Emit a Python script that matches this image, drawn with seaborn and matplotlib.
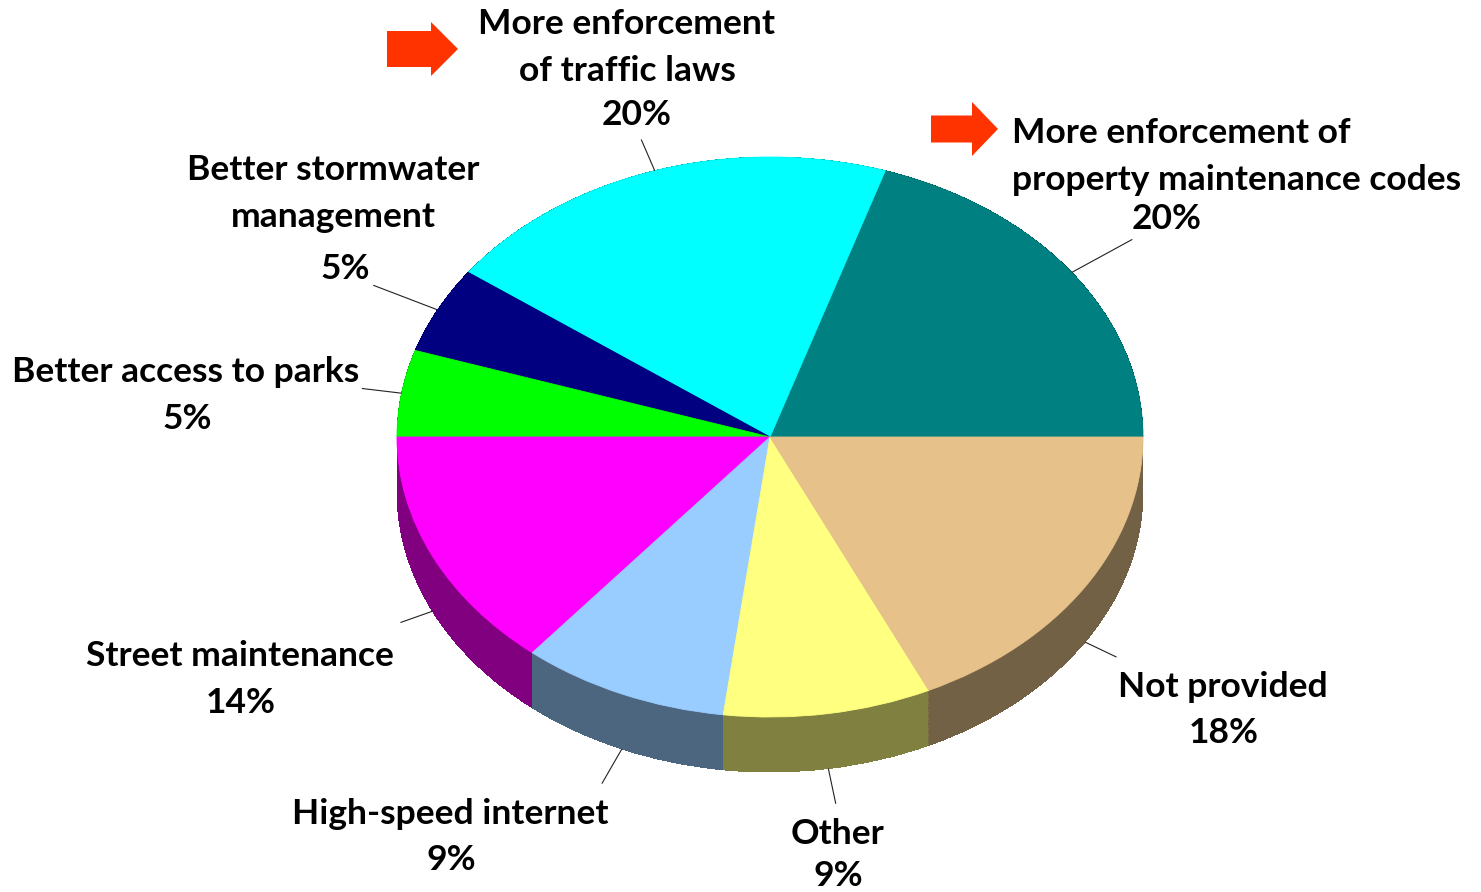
import numpy as np
import matplotlib
matplotlib.use("Agg")
import matplotlib.pyplot as plt
import matplotlib.colors as mcolors
from matplotlib.patches import FancyArrow
import seaborn as sns

# ---- data -------------------------------------------------------------
categories = [
    "More enforcement of\nproperty maintenance codes",
    "More enforcement\nof traffic laws",
    "Better stormwater\nmanagement",
    "Better access to parks",
    "Street maintenance",
    "High-speed internet",
    "Other",
    "Not provided",
]
shares = [20, 20, 5, 5, 14, 9, 9, 18]
slice_colors = ["#008080", "#00FFFF", "#000080", "#00FF00",
                "#FF00FF", "#99CCFF", "#FFFF80", "#E6C28A"]
flagged = [True, True, False, False, False, False, False, False]

# ---- layout (pixels, origin top-left) ---------------------------------
W, H = 1481, 892
CX, CY = 770, 437          # pie centre
RX, RY = 373, 280          # ellipse half-axes of the top face
DEPTH = 55                 # thickness of the pie
LINE_STEP = 47             # distance between text lines

# name: (x, first baseline, ha), percent: (x, baseline), leader length
label_layout = [
    ((1012, 143, "left"), (1167, 229), 69),
    ((627, 34, "center"), (637, 125), 34),
    ((333, 180, "center"), (345, 279), 69),
    ((186, 382, "center"), (187, 429), 40),
    ((240, 666, "center"), (241, 713), 34),
    ((450, 824, "center"), (451, 870), 40),
    ((838, 844, "center"), (838, 886), 36),
    ((1223, 697, "center"), (1224, 743), 35),
]
# arrows: tail x, tip x, centre y, body height, head height, head length
arrow_layout = {0: (931, 998, 129, 27, 54, 26), 1: (387, 458, 49, 36, 54, 27)}

sns.set_theme(style="white")
plt.rcParams["font.family"] = ["Lato", "DejaVu Sans"]
palette = sns.color_palette(slice_colors)
side_palette = [tuple(0.5 * np.array(mcolors.to_rgb(c))) for c in palette]


def to_data(xp, yp):
    return (xp - CX) / RX, (CY - yp) / RY


fig = plt.figure(figsize=(W / 100, H / 100), dpi=100)
ax = fig.add_axes([0, 0, 1, 1])

# side of the pie: stacked copies shifted downward in darker colours
for off in np.linspace(-DEPTH / RY, 0, 80):
    ax.pie(shares, colors=side_palette, startangle=0, counterclock=True,
           radius=1, center=(0, off),
           wedgeprops=dict(linewidth=0, antialiased=False))

# top face
wedges, _ = ax.pie(shares, colors=palette, startangle=0, counterclock=True,
                   radius=1, center=(0, 0), wedgeprops=dict(linewidth=0.6))
for w in wedges:
    w.set_edgecolor(w.get_facecolor())

ax.set_aspect("auto")
x0, _ = to_data(0, 0)
x1, _ = to_data(W, 0)
_, ytop = to_data(0, 0)
_, ybot = to_data(0, H)
ax.set_xlim(x0, x1)
ax.set_ylim(ybot, ytop)
ax.axis("off")

text_kw = dict(fontsize=25.5, fontweight="bold", color="black")

bounds = np.concatenate([[0], np.cumsum(shares)]) / sum(shares) * 360
for i, (name, val) in enumerate(zip(categories, shares)):
    theta = np.deg2rad((bounds[i] + bounds[i + 1]) / 2)
    c, s = np.cos(theta), np.sin(theta)
    ax_x, ax_y = c, s
    if s < 0:
        ax_y -= DEPTH / RY
    (nx, ny, ha), (pxp, pyp), length = label_layout[i]
    d = np.array([c * RX, s * RY])
    d = d / np.linalg.norm(d) * length
    ax.plot([ax_x, ax_x + d[0] / RX], [ax_y, ax_y + d[1] / RY],
            color="#222222", lw=0.8, solid_capstyle="butt")
    for k, line in enumerate(name.split("\n")):
        tx, ty = to_data(nx, ny + k * LINE_STEP)
        ax.text(tx, ty, line, ha=ha, va="baseline", **text_kw)
    tx, ty = to_data(pxp, pyp)
    ax.text(tx, ty, f"{val}%", ha="center", va="baseline", **text_kw)

    if flagged[i]:
        tail, tip, yc, body, head, hlen = arrow_layout[i]
        sx, sy = to_data(tail, yc)
        ex, _ = to_data(tip, yc)
        ax.add_patch(FancyArrow(sx, sy, ex - sx, 0, width=body / RY,
                                head_width=head / RY, head_length=hlen / RX,
                                length_includes_head=True,
                                color="#FF3300", lw=0))

fig.savefig("out.png", dpi=100)
